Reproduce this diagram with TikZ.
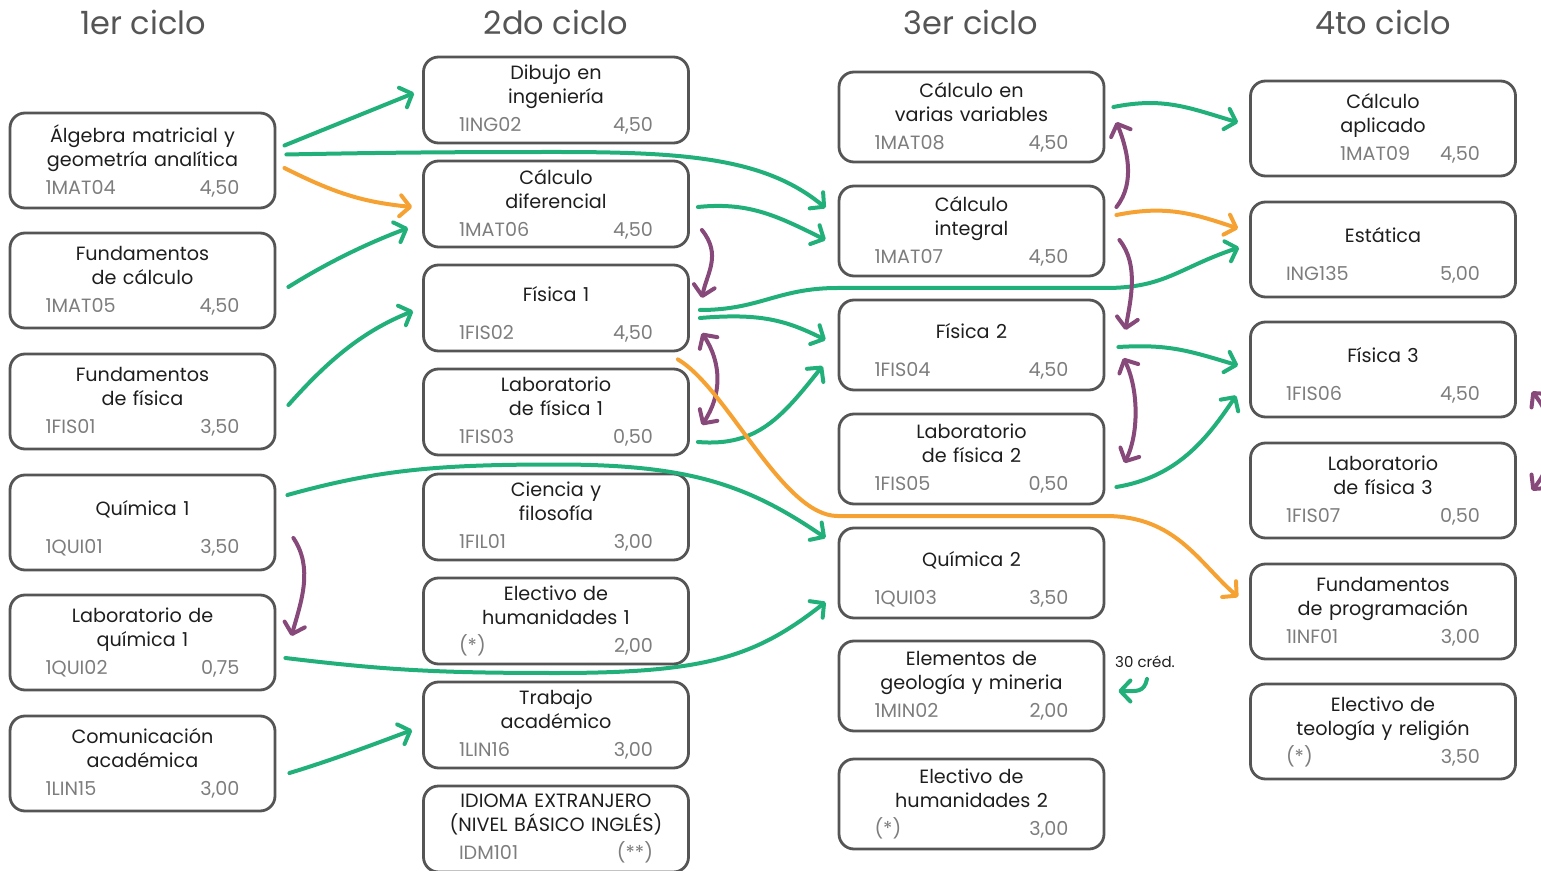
\documentclass[tikz,border=0pt]{standalone}
\usepackage{fontspec}
\setmainfont{Poppins}
\usetikzlibrary{arrows.meta,calc}

\definecolor{verdeR}{RGB}{34,176,122}
\definecolor{naranjaR}{RGB}{246,162,51}
\definecolor{moradoR}{RGB}{135,72,122}
\definecolor{borde}{RGB}{85,85,85}
\definecolor{codigo}{RGB}{125,125,125}
\definecolor{titulo}{RGB}{30,30,30}

% #1 salto, #2 nombre, #3 alto, #4 posicion, #5 titulo, #6 codigo, #7 creditos
\newcommand\curso[7][2pt]{\node[curso,#3] (#2) at (#4) {#5\\[#1]\makebox[97pt]{\color{codigo}#6\hfill#7}};}
% cursos con titulo de una sola linea
\newcommand\cursou[6]{\curso[7pt]{#1}{#2}{#3}{\rule{0pt}{13.5pt}#4}{#5}{#6}}

\begin{document}
\begin{tikzpicture}[x=0.5pt, y=-0.5pt,
    >={Straight Barb[length=5pt,width=10.5pt,round]},
    curso/.style = {draw=borde, line width=1.4pt, rounded corners=7.5pt,
      align=center, text width=118pt, inner sep=0pt, minimum width=132.5pt,
      font=\fontsize{9.6}{12}\selectfont, text=titulo},
    alto1/.style = {minimum height=47.5pt},
    alto2/.style = {minimum height=43pt},
    alto3/.style = {minimum height=45pt},
    titciclo/.style = {font=\fontsize{16}{19}\selectfont, text=borde},
    nota/.style = {font=\fontsize{7.5}{9}\selectfont, text=titulo},
    flecha/.style = {line width=2pt, line cap=round},
    prereq/.style = {flecha, draw=verdeR, ->},
    sugerido/.style = {flecha, draw=naranjaR, ->},
    correq/.style = {flecha, draw=moradoR}]
  \useasboundingbox (0,0) rectangle (1541,871);

  % ciclos
  \node[titciclo] (t1) at (143,22) {1er ciclo};
  \node[titciclo] (t2) at (556,22) {2do ciclo};
  \node[titciclo] (t3) at (971,22) {3er ciclo};
  \node[titciclo] (t4) at (1383,22) {4to ciclo};

  % 1er ciclo
  \curso{mat04}{alto1}{142.5,160.5}{Álgebra matricial y\\geometría analítica}{1MAT04}{4,50}
  \curso{mat05}{alto1}{142.5,280.5}{Fundamentos\\de cálculo}{1MAT05}{4,50}
  \curso{fis01}{alto1}{142.5,401.5}{Fundamentos\\de física}{1FIS01}{3,50}
  \cursou{qui01}{alto1}{142.5,522.5}{Química 1}{1QUI01}{3,50}
  \curso{qui02}{alto1}{142.5,642.5}{Laboratorio de\\química 1}{1QUI02}{0,75}
  \curso{lin15}{alto1}{142.5,763.5}{Comunicación\\académica}{1LIN15}{3,00}

  % 2do ciclo
  \curso{ing02}{alto2}{556,100}{Dibujo en\\ingeniería}{1ING02}{4,50}
  \curso{mat06}{alto2}{556,204}{Cálculo\\diferencial}{1MAT06}{4,50}
  \cursou{fis02}{alto2}{556,308}{Física 1}{1FIS02}{4,50}
  \curso{fis03}{alto2}{556,412}{Laboratorio\\de física 1}{1FIS03}{0,50}
  \curso{fil01}{alto2}{556,517}{Ciencia y\\filosofía}{1FIL01}{3,00}
  \curso{hum1}{alto2}{556,621}{Electivo de\\humanidades 1}{(*)}{2,00}
  \curso{lin16}{alto2}{556,725}{Trabajo\\académico}{1LIN16}{3,00}
  \curso{idm101}{alto2}{556,829}{IDIOMA EXTRANJERO\\(NIVEL BÁSICO INGLÉS)}{IDM101}{(**)}

  % 3er ciclo
  \curso{mat08}{alto3}{971.5,117}{Cálculo en\\varias variables}{1MAT08}{4,50}
  \curso{mat07}{alto3}{971.5,231}{Cálculo\\integral}{1MAT07}{4,50}
  \cursou{fis04}{alto3}{971.5,345}{Física 2}{1FIS04}{4,50}
  \curso{fis05}{alto3}{971.5,459}{Laboratorio\\de física 2}{1FIS05}{0,50}
  \cursou{qui03}{alto3}{971.5,573}{Química 2}{1QUI03}{3,50}
  \curso{min02}{alto3}{971.5,686}{Elementos de\\geología y mineria}{1MIN02}{2,00}
  \curso{hum2}{alto3}{971.5,804}{Electivo de\\humanidades 2}{(*)}{3,00}
  \node[nota] (cred) at (1145,662) {30 créd.};

  % 4to ciclo
  \curso{mat09}{alto1}{1383,128.5}{Cálculo\\aplicado}{\hspace*{27pt}1MAT09}{4,50}
  \cursou{ing135}{alto1}{1383,249.5}{Estática}{ING135}{5,00}
  \cursou{fis06}{alto1}{1383,369.5}{Física 3}{1FIS06}{4,50}
  \curso{fis07}{alto1}{1383,490.5}{Laboratorio\\de física 3}{1FIS07}{0,50}
  \curso{inf01}{alto1}{1383,611.5}{Fundamentos\\de programación}{1INF01}{3,00}
  \curso{teo}{alto1}{1383,731.5}{Electivo de\\teología y religión}{(*)}{3,50}

  % requisitos 1er -> 2do
  \draw[prereq] ($(mat04.east)+(8,-15)$) -- ($(ing02.west)+(-8,-7)$);
  \draw[prereq] ($(mat04.east)+(10,-6)$) .. controls +(100,-2) and +(-100,0) .. ($(ing02.south)!.5!(mat06.north)$)
    .. controls +(130,0) and +(-60,-50) .. ($(mat07.west)+(-12,-23)$);
  \draw[sugerido] ($(mat04.east)+(8,7.5)$) .. controls +(50,25) and +(-50,-5) .. ($(mat06.west)+(-10,3)$);
  \draw[prereq] ($(mat05.east)+(12,6.5)$) .. controls +(40,-25) and +(-40,15) .. ($(mat06.west)+(-14,24)$);
  \draw[prereq] ($(fis01.east)+(12,3.5)$) .. controls +(40,-45) and +(-50,20) .. ($(fis02.west)+(-9,3)$);
  \draw[prereq] ($(qui01.east)+(11,-27.5)$) .. controls +(90,-25) and +(-120,0) .. ($(fis03.south)!.5!(fil01.north)$)
    .. controls +(130,0) and +(-80,-55) .. ($(qui03.west)+(-12,-35)$);
  \draw[correq,->] ($(qui01.east)+(17,15.5)$) .. controls +(20,30) and +(10,-35) .. ($(qui02.east)+(15,-6.5)$);
  \draw[prereq] ($(qui02.east)+(9,15.5)$) .. controls +(100,12) and +(-120,0) .. ($(hum1.south)!.5!(lin16.north)$)
    .. controls +(150,0) and +(-70,55) .. ($(qui03.west)+(-12,29)$);
  \draw[prereq] ($(lin15.east)+(13,9.5)$) .. controls +(40,-12) and +(-40,15) .. ($(lin16.west)+(-10,5)$);

  % requisitos 2do -> 3er
  \draw[prereq] ($(mat06.east)+(8,3)$) .. controls +(50,-5) and +(-50,-25) .. ($(mat07.west)+(-12,9)$);
  \draw[correq,->] ($(mat06.east)+(12,26)$) .. controls +(20,25) and +(5,-25) .. ($(fis02.east)+(12,-10)$);
  \draw[prereq] ($(fis02.east)+(10,2)$) .. controls +(60,0) and +(-60,0) .. ($(mat07.south west)!.5!(fis04.north west)$)
    -- ($(mat07.south east)!.5!(fis04.north east)$) .. controls +(60,0) and +(-60,20) .. ($(ing135.west)+(-10,-2)$);
  \draw[prereq] ($(fis02.east)+(10,10)$) .. controls +(60,-5) and +(-40,-20) .. ($(fis04.west)+(-12,-5)$);
  \draw[correq,<->] ($(fis02.east)+(12,25)$) .. controls +(20,30) and +(20,-30) .. ($(fis03.east)+(12,13)$);
  \draw[prereq] ($(fis03.east)+(8,30)$) .. controls +(60,5) and +(-40,50) .. ($(fis04.west)+(-15,21)$);
  \draw[sugerido] ($(fis02.south east)+(-12,7)$) .. controls +(50,30) and +(-55,0) .. ($(fis05.south west)!.5!(qui03.north west)$)
    -- ($(fis05.south east)!.5!(qui03.north east)$) .. controls +(70,0) and +(-40,-35) .. ($(inf01.west)+(-11,-14.5)$);

  % requisitos 3er -> 4to
  \draw[prereq] ($(mat08.east)+(8,-10)$) .. controls +(50,-10) and +(-50,-15) .. ($(mat09.west)+(-11,-6)$);
  \draw[correq,->] ($(mat07.east)+(11,-24)$) .. controls +(20,-25) and +(10,25) .. ($(mat08.east)+(11,5)$);
  \draw[sugerido] ($(mat07.east)+(11,-16)$) .. controls +(50,-10) and +(-45,-15) .. ($(ing135.west)+(-11,-21)$);
  \draw[correq,->] ($(mat07.east)+(14,9)$) .. controls +(20,25) and +(5,-30) .. ($(fis04.east)+(20,-15)$);
  \draw[prereq] ($(fis04.east)+(13,2)$) .. controls +(50,-3) and +(-50,-15) .. ($(fis06.west)+(-11,-4)$);
  \draw[correq,<->] ($(fis04.east)+(18,13)$) .. controls +(15,30) and +(15,-30) .. ($(fis05.east)+(19,4)$);
  \draw[prereq] ($(fis05.east)+(11,28)$) .. controls +(60,-10) and +(-30,45) .. ($(fis06.west)+(-13,26)$);
  \draw[correq,<->] ($(fis06.east)+(15,22)$) .. controls +(25,30) and +(25,-30) .. ($(fis07.east)+(15,0)$);
  \draw[prereq] ($(cred.south)+(2,4)$) .. controls +(-3,14) and +(18,0) .. ($(min02.east)+(13,5)$);
\end{tikzpicture}
\end{document}
